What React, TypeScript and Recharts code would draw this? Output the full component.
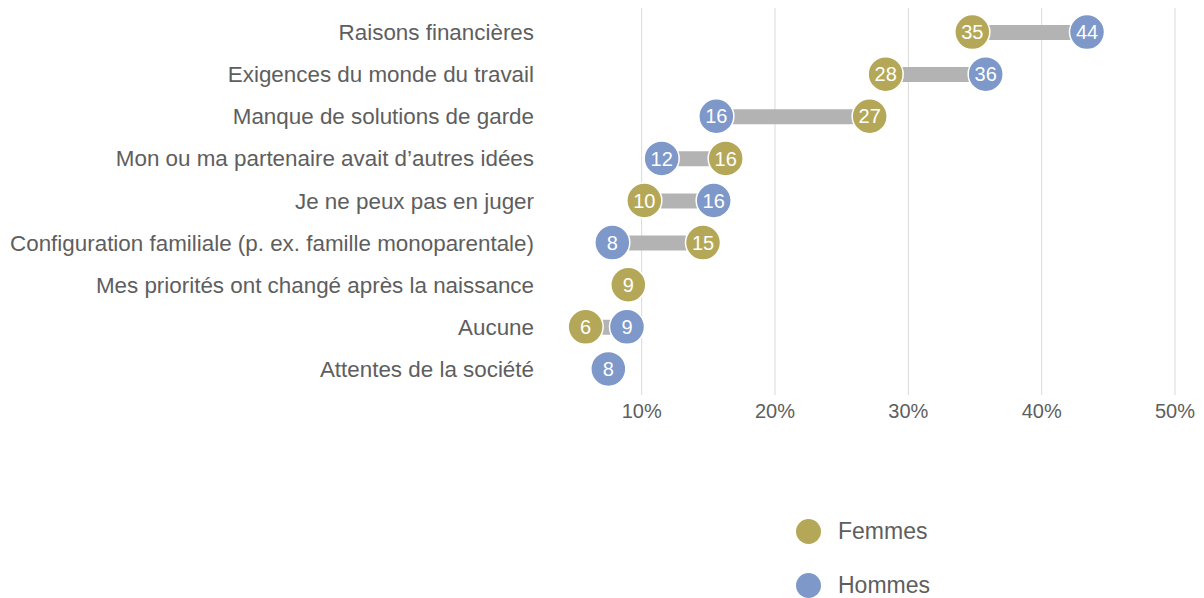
import React from "react";
import {
  ComposedChart,
  Bar,
  Line,
  XAxis,
  YAxis,
  CartesianGrid,
  Legend,
} from "recharts";

const categories = [
  "Raisons financières",
  "Exigences du monde du travail",
  "Manque de solutions de garde",
  "Mon ou ma partenaire avait d’autres idées",
  "Je ne peux pas en juger",
  "Configuration familiale (p. ex. famille monoparentale)",
  "Mes priorités ont changé après la naissance",
  "Aucune",
  "Attentes de la société",
];

// positions, printed labels kept separately
const femmes = [34.8, 28.3, 27.1, 16.3, 10.2, 14.6, 9.0, 5.8, null];
const hommes = [43.4, 35.8, 15.6, 11.5, 15.4, 7.8, null, 8.9, 7.5];
const femmesLabels = [35, 28, 27, 16, 10, 15, 9, 6, null];
const hommesLabels = [44, 36, 16, 12, 16, 8, null, 9, 8];

const xTicks = [10, 20, 30, 40, 50];

const FEMMES = "#B4A858";
const HOMMES = "#7D98C9";
const TEXT = "#5e5e5e";
const FONT = "'Liberation Sans', Arial, Helvetica, sans-serif";

const data = categories.map((name, i) => ({
  name,
  femmes: femmes[i],
  hommes: hommes[i],
  femmesLabel: femmesLabels[i],
  hommesLabel: hommesLabels[i],
  range:
    femmes[i] != null && hommes[i] != null
      ? [Math.min(femmes[i]!, hommes[i]!), Math.max(femmes[i]!, hommes[i]!)]
      : null,
}));

function makeDot(color: string, key: "femmes" | "hommes") {
  return (props: any) => {
    const { cx, cy, payload, index } = props;
    const v = payload?.[key];
    if (v == null || cx == null || isNaN(cx)) return <g key={`${key}-${index}`} />;
    return (
      <g key={`${key}-${index}`}>
        <circle cx={cx} cy={cy} r={17.5} fill={color} stroke="#fff" strokeWidth={1.5} />
        <text
          x={cx}
          y={cy}
          dy="0.36em"
          textAnchor="middle"
          fill="#fff"
          fontSize={20}
          fontFamily={FONT}
        >
          {payload[`${key}Label`]}
        </text>
      </g>
    );
  };
}

function CategoryTick({ x, y, payload }: any) {
  return (
    <text x={x} y={y} dy="0.36em" textAnchor="end" fill={TEXT} fontSize={22.4} fontFamily={FONT}>
      {payload.value}
    </text>
  );
}

function LegendContent() {
  const items = [
    { name: "Femmes", color: FEMMES },
    { name: "Hommes", color: HOMMES },
  ];
  return (
    <div style={{ fontFamily: FONT }}>
      {items.map((it) => (
        <div
          key={it.name}
          style={{ display: "flex", alignItems: "center", height: 54 }}
        >
          <span
            style={{
              width: 25,
              height: 25,
              borderRadius: "50%",
              background: it.color,
              display: "inline-block",
              marginRight: 17,
            }}
          />
          <span style={{ fontSize: 23, color: TEXT }}>{it.name}</span>
        </div>
      ))}
    </div>
  );
}

export default function App() {
  return (
    <div style={{ position: "absolute", left: 0, top: 0, fontFamily: FONT }}>
      <ComposedChart
        width={1204}
        height={598}
        data={data}
        layout="vertical"
        margin={{ top: 11, right: 29, bottom: 178, left: 0 }}
      >
        <CartesianGrid
          horizontal={false}
          stroke="#d9d9d9"
          y={8}
          height={387}
          verticalValues={xTicks}
        />
        <XAxis
          type="number"
          domain={[2, 50]}
          ticks={xTicks}
          tickFormatter={(v) => `${v}%`}
          axisLine={false}
          tickLine={false}
          tickSize={5}
          tickMargin={9}
          height={30}
          tick={{ fill: TEXT, fontSize: 20, fontFamily: FONT }}
        />
        <YAxis
          type="category"
          dataKey="name"
          width={535}
          axisLine={false}
          tickLine={false}
          tickSize={0}
          tickMargin={1}
          interval={0}
          tick={<CategoryTick />}
        />
        <Legend
          layout="vertical"
          align="center"
          verticalAlign="middle"
          wrapperStyle={{ left: 796, top: 504, width: 200 }}
          content={<LegendContent />}
        />
        <Bar dataKey="range" barSize={15} fill="#b3b3b3" isAnimationActive={false} />
        <Line
          dataKey="femmes"
          name="Femmes"
          stroke="none"
          dot={makeDot(FEMMES, "femmes")}
          activeDot={false}
          isAnimationActive={false}
        />
        <Line
          dataKey="hommes"
          name="Hommes"
          stroke="none"
          dot={makeDot(HOMMES, "hommes")}
          activeDot={false}
          isAnimationActive={false}
        />
      </ComposedChart>
    </div>
  );
}
